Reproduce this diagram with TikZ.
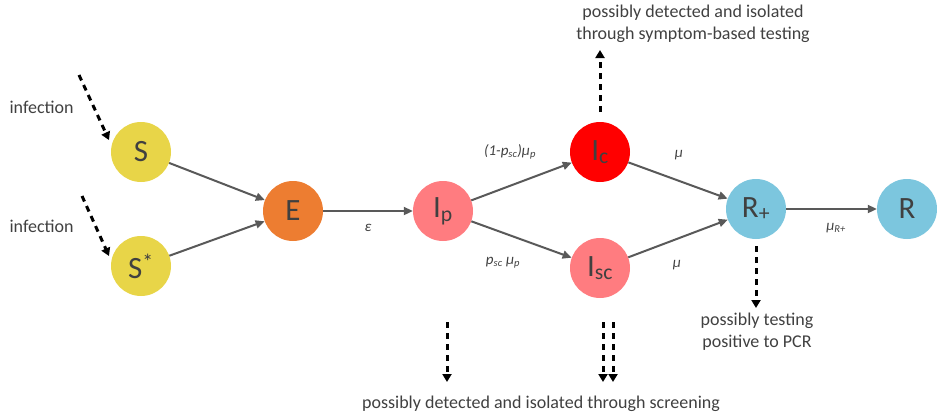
\documentclass[tikz,border=0pt]{standalone}
\usepackage{fontspec}
\setmainfont{Carlito}
\usetikzlibrary{arrows.meta}
\definecolor{txtgray}{HTML}{404040}
\definecolor{arrgray}{HTML}{595959}
\definecolor{syel}{HTML}{E8D548}
\definecolor{eorange}{HTML}{ED7D31}
\definecolor{salmon}{HTML}{FF7C80}
\definecolor{bred}{HTML}{FF0000}
\definecolor{lblue}{HTML}{7CC6DE}
\begin{document}
\begin{tikzpicture}[x=1pt,y=-1pt,
  comp/.style={circle,minimum size=60pt,inner sep=0pt,text=txtgray,font=\fontsize{31}{31}\selectfont},
  flow/.style={draw=arrgray,line width=2pt,-{Triangle[length=9pt,width=8pt]}},
  obs/.style={draw=black,line width=3pt,dash pattern=on 6pt off 5pt,-{Triangle[length=8pt,width=9pt]}},
  rate/.style={text=txtgray,font=\fontsize{15}{15}\selectfont\itshape},
  note/.style={text=txtgray,font=\fontsize{18}{22}\selectfont,align=center}]
\useasboundingbox (0,0) rectangle (937,416);
\node[comp,fill=syel] (S) at (141,152) {S};
\node[comp,fill=syel] (Ss) at (141,266) {S\textsuperscript{*}};
\node[comp,fill=eorange] (E) at (293,211) {E};
\node[comp,fill=salmon] (Ip) at (443,211) {I\textsubscript{p}};
\node[comp,fill=bred] (Ic) at (600,152) {I\textsubscript{c}};
\node[comp,fill=salmon] (Isc) at (600,268) {I\textsubscript{sc}};
\node[comp,fill=lblue] (Rp) at (756,209) {R\textsubscript{+}};
\node[comp,fill=lblue] (R) at (907,209) {R};
\draw[flow] (S) -- (E);
\draw[flow] (Ss) -- (E);
\draw[flow] (E) -- (Ip);
\draw[flow] (Ip) -- (Ic);
\draw[flow] (Ip) -- (Isc);
\draw[flow] (Ic) -- (Rp);
\draw[flow] (Isc) -- (Rp);
\draw[flow] (Rp) -- (R);
\node[rate] (le) at (368,228) {ε};
\node[rate] (l1) at (510,152) {(1-p\textsubscript{sc})μ\textsubscript{p}};
\node[rate] (l2) at (503,263) {p\textsubscript{sc} μ\textsubscript{p}};
\node[rate] (l3) at (679,155) {μ};
\node[rate] (l4) at (677,265) {μ};
\node[rate] (l5) at (836,228) {μ\textsubscript{R+}};
% infections
\node[note,anchor=west] (inf1) at (6,107) {infection};
\node[note,anchor=west] (inf2) at (6,226) {infection};
\coordinate (a1) at (79,75);
\coordinate (a2) at (82,196);
\draw[obs] (a1) -- (109,140);
\draw[obs] (a2) -- (109,256);
% up from Ic
\coordinate (u1) at (600,112);
\coordinate (u2) at (600,50);
\draw[obs] (u1) -- (u2);
\node[note] (t1) at (693,24) {possibly detected and isolated\\through symptom-based testing};
% R+ down
\coordinate (r1) at (756,246);
\coordinate (r2) at (756,308);
\draw[obs] (r1) -- (r2);
\node[note] (t2) at (757,332) {possibly testing\\positive to PCR};
% screening
\coordinate (p1) at (447,322);
\coordinate (p2) at (447,382);
\draw[obs] (p1) -- (p2);
\coordinate (q1) at (603,322);
\coordinate (q2) at (603,382);
\coordinate (w1) at (613,322);
\coordinate (w2) at (613,382);
\draw[obs] (q1) -- (q2);
\draw[obs] (w1) -- (w2);
\node[note] (t3) at (541,404) {possibly detected and isolated through screening};
\end{tikzpicture}
\end{document}
